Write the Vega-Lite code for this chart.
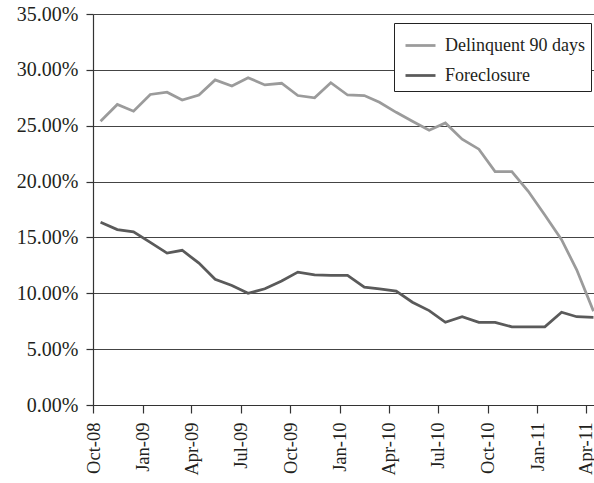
{
  "$schema": "https://vega.github.io/schema/vega-lite/v6.json",
  "width": 501,
  "height": 391,
  "autosize": {"type": "none"},
  "padding": {"left": 93, "top": 14, "right": 0, "bottom": 78},
  "background": "white",
  "config": {
    "view": {"stroke": null},
    "font": "Liberation Serif",
    "axis": {"labelFont": "Liberation Serif"},
    "legend": {"labelFont": "Liberation Serif"}
  },
  "data": {
    "values": [
      {"date": "2008-10-15", "series": "Delinquent 90 days", "value": 0.254},
      {"date": "2008-11-15", "series": "Delinquent 90 days", "value": 0.269},
      {"date": "2008-12-15", "series": "Delinquent 90 days", "value": 0.263},
      {"date": "2009-01-15", "series": "Delinquent 90 days", "value": 0.278},
      {"date": "2009-02-15", "series": "Delinquent 90 days", "value": 0.280},
      {"date": "2009-03-15", "series": "Delinquent 90 days", "value": 0.273},
      {"date": "2009-04-15", "series": "Delinquent 90 days", "value": 0.2775},
      {"date": "2009-05-15", "series": "Delinquent 90 days", "value": 0.291},
      {"date": "2009-06-15", "series": "Delinquent 90 days", "value": 0.2855},
      {"date": "2009-07-15", "series": "Delinquent 90 days", "value": 0.293},
      {"date": "2009-08-15", "series": "Delinquent 90 days", "value": 0.2865},
      {"date": "2009-09-15", "series": "Delinquent 90 days", "value": 0.288},
      {"date": "2009-10-15", "series": "Delinquent 90 days", "value": 0.277},
      {"date": "2009-11-15", "series": "Delinquent 90 days", "value": 0.275},
      {"date": "2009-12-15", "series": "Delinquent 90 days", "value": 0.2885},
      {"date": "2010-01-15", "series": "Delinquent 90 days", "value": 0.2775},
      {"date": "2010-02-15", "series": "Delinquent 90 days", "value": 0.277},
      {"date": "2010-03-15", "series": "Delinquent 90 days", "value": 0.271},
      {"date": "2010-04-15", "series": "Delinquent 90 days", "value": 0.262},
      {"date": "2010-05-15", "series": "Delinquent 90 days", "value": 0.254},
      {"date": "2010-06-15", "series": "Delinquent 90 days", "value": 0.246},
      {"date": "2010-07-15", "series": "Delinquent 90 days", "value": 0.2525},
      {"date": "2010-08-15", "series": "Delinquent 90 days", "value": 0.238},
      {"date": "2010-09-15", "series": "Delinquent 90 days", "value": 0.229},
      {"date": "2010-10-15", "series": "Delinquent 90 days", "value": 0.209},
      {"date": "2010-11-15", "series": "Delinquent 90 days", "value": 0.209},
      {"date": "2010-12-15", "series": "Delinquent 90 days", "value": 0.1915},
      {"date": "2011-01-15", "series": "Delinquent 90 days", "value": 0.170},
      {"date": "2011-02-15", "series": "Delinquent 90 days", "value": 0.148},
      {"date": "2011-03-15", "series": "Delinquent 90 days", "value": 0.121},
      {"date": "2011-04-15", "series": "Delinquent 90 days", "value": 0.084},
      {"date": "2008-10-15", "series": "Foreclosure", "value": 0.1635},
      {"date": "2008-11-15", "series": "Foreclosure", "value": 0.157},
      {"date": "2008-12-15", "series": "Foreclosure", "value": 0.155},
      {"date": "2009-01-15", "series": "Foreclosure", "value": 0.1455},
      {"date": "2009-02-15", "series": "Foreclosure", "value": 0.136},
      {"date": "2009-03-15", "series": "Foreclosure", "value": 0.1385},
      {"date": "2009-04-15", "series": "Foreclosure", "value": 0.127},
      {"date": "2009-05-15", "series": "Foreclosure", "value": 0.1125},
      {"date": "2009-06-15", "series": "Foreclosure", "value": 0.107},
      {"date": "2009-07-15", "series": "Foreclosure", "value": 0.100},
      {"date": "2009-08-15", "series": "Foreclosure", "value": 0.104},
      {"date": "2009-09-15", "series": "Foreclosure", "value": 0.111},
      {"date": "2009-10-15", "series": "Foreclosure", "value": 0.119},
      {"date": "2009-11-15", "series": "Foreclosure", "value": 0.1165},
      {"date": "2009-12-15", "series": "Foreclosure", "value": 0.116},
      {"date": "2010-01-15", "series": "Foreclosure", "value": 0.116},
      {"date": "2010-02-15", "series": "Foreclosure", "value": 0.1055},
      {"date": "2010-03-15", "series": "Foreclosure", "value": 0.104},
      {"date": "2010-04-15", "series": "Foreclosure", "value": 0.102},
      {"date": "2010-05-15", "series": "Foreclosure", "value": 0.092},
      {"date": "2010-06-15", "series": "Foreclosure", "value": 0.0845},
      {"date": "2010-07-15", "series": "Foreclosure", "value": 0.074},
      {"date": "2010-08-15", "series": "Foreclosure", "value": 0.079},
      {"date": "2010-09-15", "series": "Foreclosure", "value": 0.074},
      {"date": "2010-10-15", "series": "Foreclosure", "value": 0.074},
      {"date": "2010-11-15", "series": "Foreclosure", "value": 0.070},
      {"date": "2010-12-15", "series": "Foreclosure", "value": 0.070},
      {"date": "2011-01-15", "series": "Foreclosure", "value": 0.070},
      {"date": "2011-02-15", "series": "Foreclosure", "value": 0.083},
      {"date": "2011-03-15", "series": "Foreclosure", "value": 0.079},
      {"date": "2011-04-15", "series": "Foreclosure", "value": 0.0785}
    ]
  },
  "mark": {"type": "line", "strokeWidth": 2.75, "clip": true},
  "encoding": {
    "x": {
      "field": "date",
      "type": "temporal",
      "scale": {
        "type": "utc",
        "domain": [
          {"year": 2008, "month": 10, "date": 1, "utc": true},
          {"year": 2011, "month": 4, "date": 16, "utc": true}
        ]
      },
      "axis": {
        "title": null,
        "grid": false,
        "format": "%b-%y",
        "values": [
          {"year": 2008, "month": 10, "date": 1, "utc": true},
          {"year": 2009, "month": 1, "date": 1, "utc": true},
          {"year": 2009, "month": 4, "date": 1, "utc": true},
          {"year": 2009, "month": 7, "date": 1, "utc": true},
          {"year": 2009, "month": 10, "date": 1, "utc": true},
          {"year": 2010, "month": 1, "date": 1, "utc": true},
          {"year": 2010, "month": 4, "date": 1, "utc": true},
          {"year": 2010, "month": 7, "date": 1, "utc": true},
          {"year": 2010, "month": 10, "date": 1, "utc": true},
          {"year": 2011, "month": 1, "date": 1, "utc": true},
          {"year": 2011, "month": 4, "date": 1, "utc": true}
        ],
        "labelAngle": -90,
        "labelFont": "Liberation Serif",
        "labelFontSize": 18.5,
        "labelColor": "#231f20",
        "labelPadding": 9,
        "labelFlush": false,
        "labelOverlap": false,
        "tickSize": 8,
        "tickColor": "#333333",
        "domainColor": "#333333",
        "tickWidth": 1.2,
        "domainWidth": 1.2
      }
    },
    "y": {
      "field": "value",
      "type": "quantitative",
      "scale": {"domain": [0, 0.35], "nice": false},
      "axis": {
        "title": null,
        "format": ".2%",
        "values": [0, 0.05, 0.1, 0.15, 0.2, 0.25, 0.3, 0.35],
        "labelFont": "Liberation Serif",
        "labelFontSize": 20,
        "labelColor": "#231f20",
        "labelPadding": 8,
        "tickSize": 7,
        "tickColor": "#333333",
        "domainColor": "#333333",
        "tickWidth": 1.2,
        "domainWidth": 1.2,
        "gridColor": "#444444",
        "gridWidth": 1.2
      }
    },
    "color": {
      "field": "series",
      "type": "nominal",
      "scale": {
        "domain": ["Delinquent 90 days", "Foreclosure"],
        "range": ["#9b9b9b", "#5a5a5a"]
      },
      "legend": {
        "title": null,
        "orient": "none",
        "legendX": 301,
        "legendY": 9,
        "strokeColor": "#222222",
        "fillColor": "white",
        "padding": 6,
        "symbolOffset": 4,
        "symbolType": "stroke",
        "symbolSize": 900,
        "symbolStrokeWidth": 2.75,
        "labelFont": "Liberation Serif",
        "labelFontSize": 18,
        "labelColor": "#231f20",
        "labelOffset": 8,
        "rowPadding": 4
      }
    }
  }
}
